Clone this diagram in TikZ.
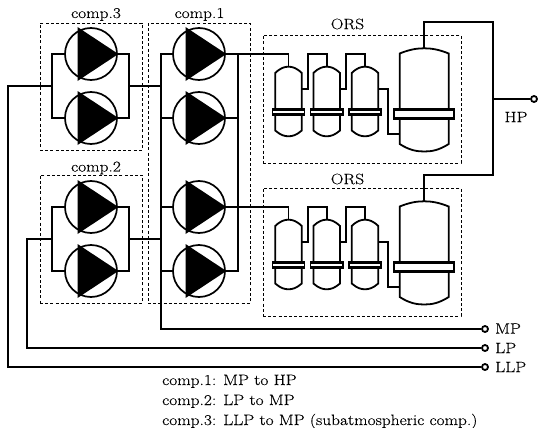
\documentclass[tikz,border=0pt]{standalone}
\usepackage{fontspec}
\setmainfont[FakeStretch=1.16,FakeBold=0.25]{Latin Modern Roman}
\tikzset{
  pipe/.style={line width=2pt,line join=miter},
  thinpipe/.style={line width=1.7pt,line join=miter},
  vline/.style={line width=1.8pt},
  box/.style={draw,dashed,line width=0.8pt,dash pattern=on 3pt off 2.2pt},
  pumpc/.style={circle,draw,fill=white,line width=1.7pt,minimum size=52pt,inner sep=0pt},
  term/.style={circle,draw,fill=white,line width=1.8pt,minimum size=6pt,inner sep=0pt},
  lab/.style={font=\fontsize{15}{17}\selectfont,inner sep=0pt},
}
\newcommand{\pump}[3]{%
  \node[pumpc] (#1) at (#2,#3) {};
  \fill ($(#1)+(-13.5,-27)$) -- ($(#1.east)+(0.5,0)$) -- ($(#1)+(-13.5,27)$) -- cycle;
}
\newcommand{\vessel}[9]{%
  \coordinate (#1top) at (#2,#3+#5);
  \draw[vline,fill=white] (#2-#4,#3+#6) .. controls (#2-#4*0.6,#3+#5+1.2) and (#2-#4*0.3,#3+#5) .. (#2,#3+#5)
     .. controls (#2+#4*0.3,#3+#5) and (#2+#4*0.6,#3+#5+1.2) .. (#2+#4,#3+#6)
     -- (#2+#4,#3+#7) .. controls (#2+#4*0.6,#3+#8-1.2) and (#2+#4*0.3,#3+#8) .. (#2,#3+#8)
     .. controls (#2-#4*0.3,#3+#8) and (#2-#4*0.6,#3+#8-1.2) .. (#2-#4,#3+#7) -- cycle;
}
\usetikzlibrary{calc}
\begin{document}
\begin{tikzpicture}[x=1pt,y=-1pt]
\useasboundingbox (0,0) rectangle (538,428);
% dashed groups
\node[box,minimum width=102pt,minimum height=127pt,inner sep=0pt] (g3) at (91,86.5) {};
\node[box,minimum width=102pt,minimum height=128pt,inner sep=0pt] (g2) at (91,239) {};
\node[box,minimum width=102pt,minimum height=280pt,inner sep=0pt] (g1) at (199,163) {};
\node[box,minimum width=198pt,minimum height=128pt,inner sep=0pt] (o1) at (362,99) {};
\node[box,minimum width=198pt,minimum height=128pt,inner sep=0pt] (o2) at (362,252) {};
\node[lab] (lc3) at (96,14.5) {comp.3};
\node[lab] (lc1) at (199.5,14.5) {comp.1};
\node[lab] (lc2) at (96,168) {comp.2};
\node[lab] (lo1) at (347.5,24) {ORS};
\node[lab] (lo2) at (347.5,179) {ORS};
% terminals and labels
\node[term] (hp) at (534,99) {};
\node[term] (mp) at (485,329) {};
\node[term] (lp) at (485,348) {};
\node[term] (llp) at (485,367) {};
\node[lab,anchor=center] (lhp) at (516,117) {HP};
\node[lab,anchor=west] (lmp) at (495,328.5) {MP};
\node[lab,anchor=west] (llpl) at (495,348) {LP};
\node[lab,anchor=west] (lllp) at (495,367) {LLP};
\node[lab,anchor=base west] (t1) at (162,385) {comp.1: MP to HP};
\node[lab,anchor=base west] (t2) at (162,405) {comp.2: LP to MP};
\node[lab,anchor=base west] (t3) at (162,425) {comp.3: LLP to MP (subatmospheric comp.)};
% junctions
\coordinate (j3l) at (52,86);
\coordinate (j3r) at (129,86);
\coordinate (j2l) at (52,239);
\coordinate (j2r) at (129,239);
\coordinate (b1) at (161,54);
\coordinate (b4) at (161,329);
\coordinate (r1) at (238,54);
\coordinate (r4) at (238,271);
% pipes under pumps
\draw[pipe] (52,54) -- (129,54) -- (129,118) -- (52,118) -- cycle;
\draw[pipe] (52,207) -- (129,207) -- (129,271) -- (52,271) -- cycle;
\draw[pipe] (llp) -- (8,367) -- (8,86) -- (j3l);
\draw[pipe] (lp) -- (27,348) -- (27,239) -- (j2l);
\draw[pipe] (mp) -- (b4) -- (b1) -- (r1);
\draw[pipe] (161,118) -- (238,118);
\draw[pipe] (161,207) -- (289,207);
\draw[pipe] (161,271) -- (r4) -- (r1);
\draw[pipe] (j3r) -- (161,86);
\draw[pipe] (j2r) -- (161,239);
\draw[pipe] (238,54) -- (288.5,54);
% pumps
\pump{p31}{91}{54}
\pump{p32}{91}{118}
\pump{p21}{91}{207}
\pump{p22}{91}{271}
\pump{p11}{199}{54}
\pump{p12}{199}{118}
\pump{p13}{199}{207}
\pump{p14}{199}{271}
% ORS pipes and vessels, upper then lower
\foreach \d/\nm in {0/a,153/b}{
  \draw[thinpipe] (288.5,\d+54) -- (288.5,\d+67);
  \draw[thinpipe] (302,\d+89) -- (307.7,\d+89) -- (307.7,\d+54) -- (326.7,\d+54) -- (326.7,\d+67);
  \draw[thinpipe] (340,\d+89) -- (346,\d+89) -- (346,\d+54) -- (365,\d+54) -- (365,\d+67);
  \draw[thinpipe] (378.5,\d+89) -- (387.7,\d+89) -- (387.7,\d+134) -- (400,\d+134);
  \vessel{\nm v1}{288.5}{\d}{13.3}{66.7}{73}{130.5}{136.3}{16.5}
  \vessel{\nm v2}{326.7}{\d}{13.3}{66.7}{73}{130.5}{136.3}{16.5}
  \vessel{\nm v3}{365}{\d}{13.3}{66.7}{73}{130.5}{136.3}{16.5}
  \vessel{\nm v4}{424.2}{\d}{24.5}{48.3}{53.5}{144}{151.5}{30.5}
  \foreach \cx in {288.5,326.7,365}{
    \fill (\cx-16.8,\d+107.5) rectangle (\cx+16.8,\d+116);
    \fill[white] (\cx-15.3,\d+111) rectangle (\cx+15.3,\d+112.6);
  }
  \fill (424.2-30.8,\d+108) rectangle (424.2+30.8,\d+119.5);
  \fill[white] (424.2-29,\d+110.5) rectangle (424.2+29,\d+116.8);
}
\draw[pipe] (av4top) -- (424.2,22.5) -- (492.7,22.5) -- (492.7,175) -- (424.2,175) -- (bv4top);
\draw[pipe] (492.7,99) -- (hp);
\end{tikzpicture}
\end{document}
